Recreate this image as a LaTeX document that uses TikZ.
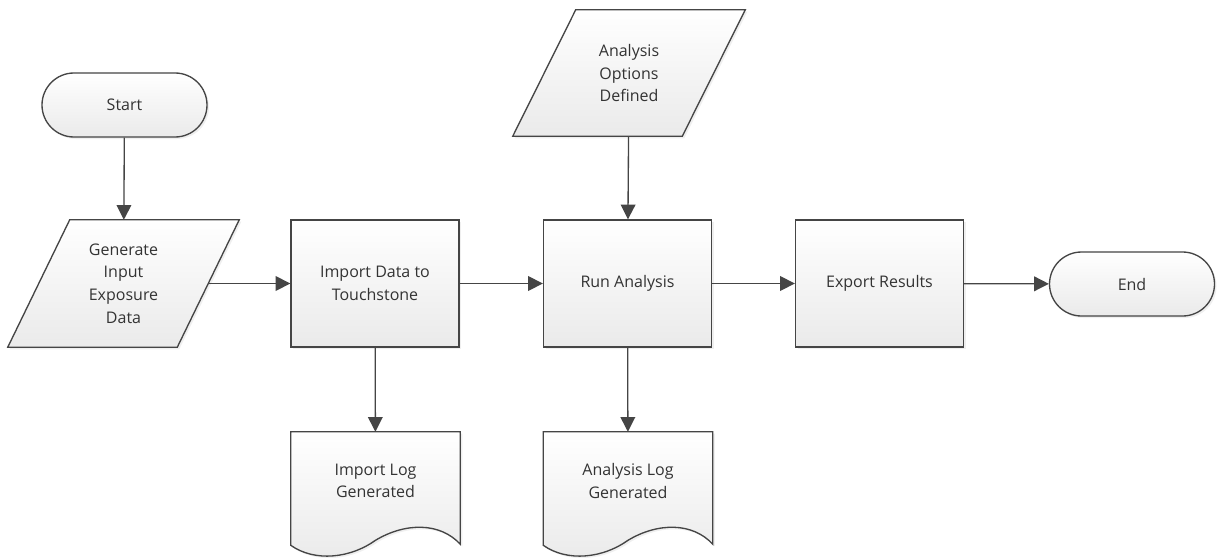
\documentclass[tikz,border=0pt]{standalone}
\usepackage{fontspec}
\setmainfont{Open Sans}
\usetikzlibrary{arrows.meta,shapes.misc,calc,shadows}
\definecolor{linec}{HTML}{454545}
\definecolor{textc}{HTML}{333333}
\definecolor{botc}{HTML}{EAEAEA}
\tikzset{
  fillshade/.style={draw=linec, line width=1pt, top color=white, bottom color=botc,
    drop shadow={opacity=0.12, shadow xshift=1.5pt, shadow yshift=-1.5pt}},
  lbl/.style={text=textc, align=center, inner sep=0pt, font=\fontsize{12pt}{17pt}\selectfont},
  term/.style={fillshade, lbl, rounded rectangle, minimum width=123.75pt, minimum height=48pt},
  procbox/.style={fillshade, lbl, rectangle, minimum width=126pt, minimum height=95.25pt},
  bodybox/.style={lbl, rectangle, minimum width=126.75pt},
  arr/.style={draw=linec, line width=1pt, -{Triangle[length=11pt,width=11pt]}}
}
\begin{document}
\begin{tikzpicture}[x=0.75pt,y=-0.75pt]
\fill[white] (0,0) rectangle (1219,557);
\useasboundingbox (0,0) rectangle (1219,557);
\node[term] (start) at (124.5,105) {Start};
% data input shapes (parallelograms)
\node[bodybox, minimum height=95.25pt] (gen) at (123.5,283.5) {};
\path[fillshade] ($(gen.north west)+(31,0)$) -- ($(gen.north east)+(31,0)$)
  -- ($(gen.south east)+(-31,0)$) -- ($(gen.south west)+(-31,0)$) -- cycle;
\node[lbl] at (gen.center) {Generate\\Input\\Exposure\\Data};
\node[bodybox, minimum height=94.5pt] (opt) at (629,73) {};
\path[fillshade] ($(opt.north west)+(31.5,0)$) -- ($(opt.north east)+(31.5,0)$)
  -- ($(opt.south east)+(-31.5,0)$) -- ($(opt.south west)+(-31.5,0)$) -- cycle;
\node[lbl] at (opt.center) {Analysis\\Options\\Defined};
\node[procbox] (imp) at (375,283.5) {Import Data to\\Touchstone};
\node[procbox] (run) at (627.5,283.5) {Run Analysis};
\node[procbox] (exp) at (879.5,283.5) {Export Results};
\node[term] (end) at (1132,284) {End};
% documents
\node[bodybox, minimum height=73.5pt] (ilog) at (375.5,481) {};
\path[fillshade] (ilog.north west) -- (ilog.north east) -- ($(ilog.south east)+(0,14)$)
  .. controls ($(ilog.south east)+(-20,-8)$) and ($(ilog.south)+(30,-8)$) .. ($(ilog.south)+(0,10)$)
  .. controls ($(ilog.south)+(-25,28)$) and ($(ilog.south west)+(24,32)$) .. ($(ilog.south west)+(0,15)$) -- cycle;
\node[lbl] at (ilog.center) {Import Log\\Generated};
\node[bodybox, minimum height=73.5pt] (alog) at (628,481) {};
\path[fillshade] (alog.north west) -- (alog.north east) -- ($(alog.south east)+(0,14)$)
  .. controls ($(alog.south east)+(-20,-8)$) and ($(alog.south)+(30,-8)$) .. ($(alog.south)+(0,10)$)
  .. controls ($(alog.south)+(-25,28)$) and ($(alog.south west)+(24,32)$) .. ($(alog.south west)+(0,15)$) -- cycle;
\node[lbl] at (alog.center) {Analysis Log\\Generated};
% connectors
\draw[arr] (start) -- (gen);
\draw[arr] (gen) -- (imp);
\draw[arr] (imp) -- (ilog);
\draw[arr] (imp) -- (run);
\draw[arr] (opt) -- (run);
\draw[arr] (run) -- (alog);
\draw[arr] (run) -- (exp);
\draw[arr] (exp) -- (end);
\end{tikzpicture}
\end{document}
